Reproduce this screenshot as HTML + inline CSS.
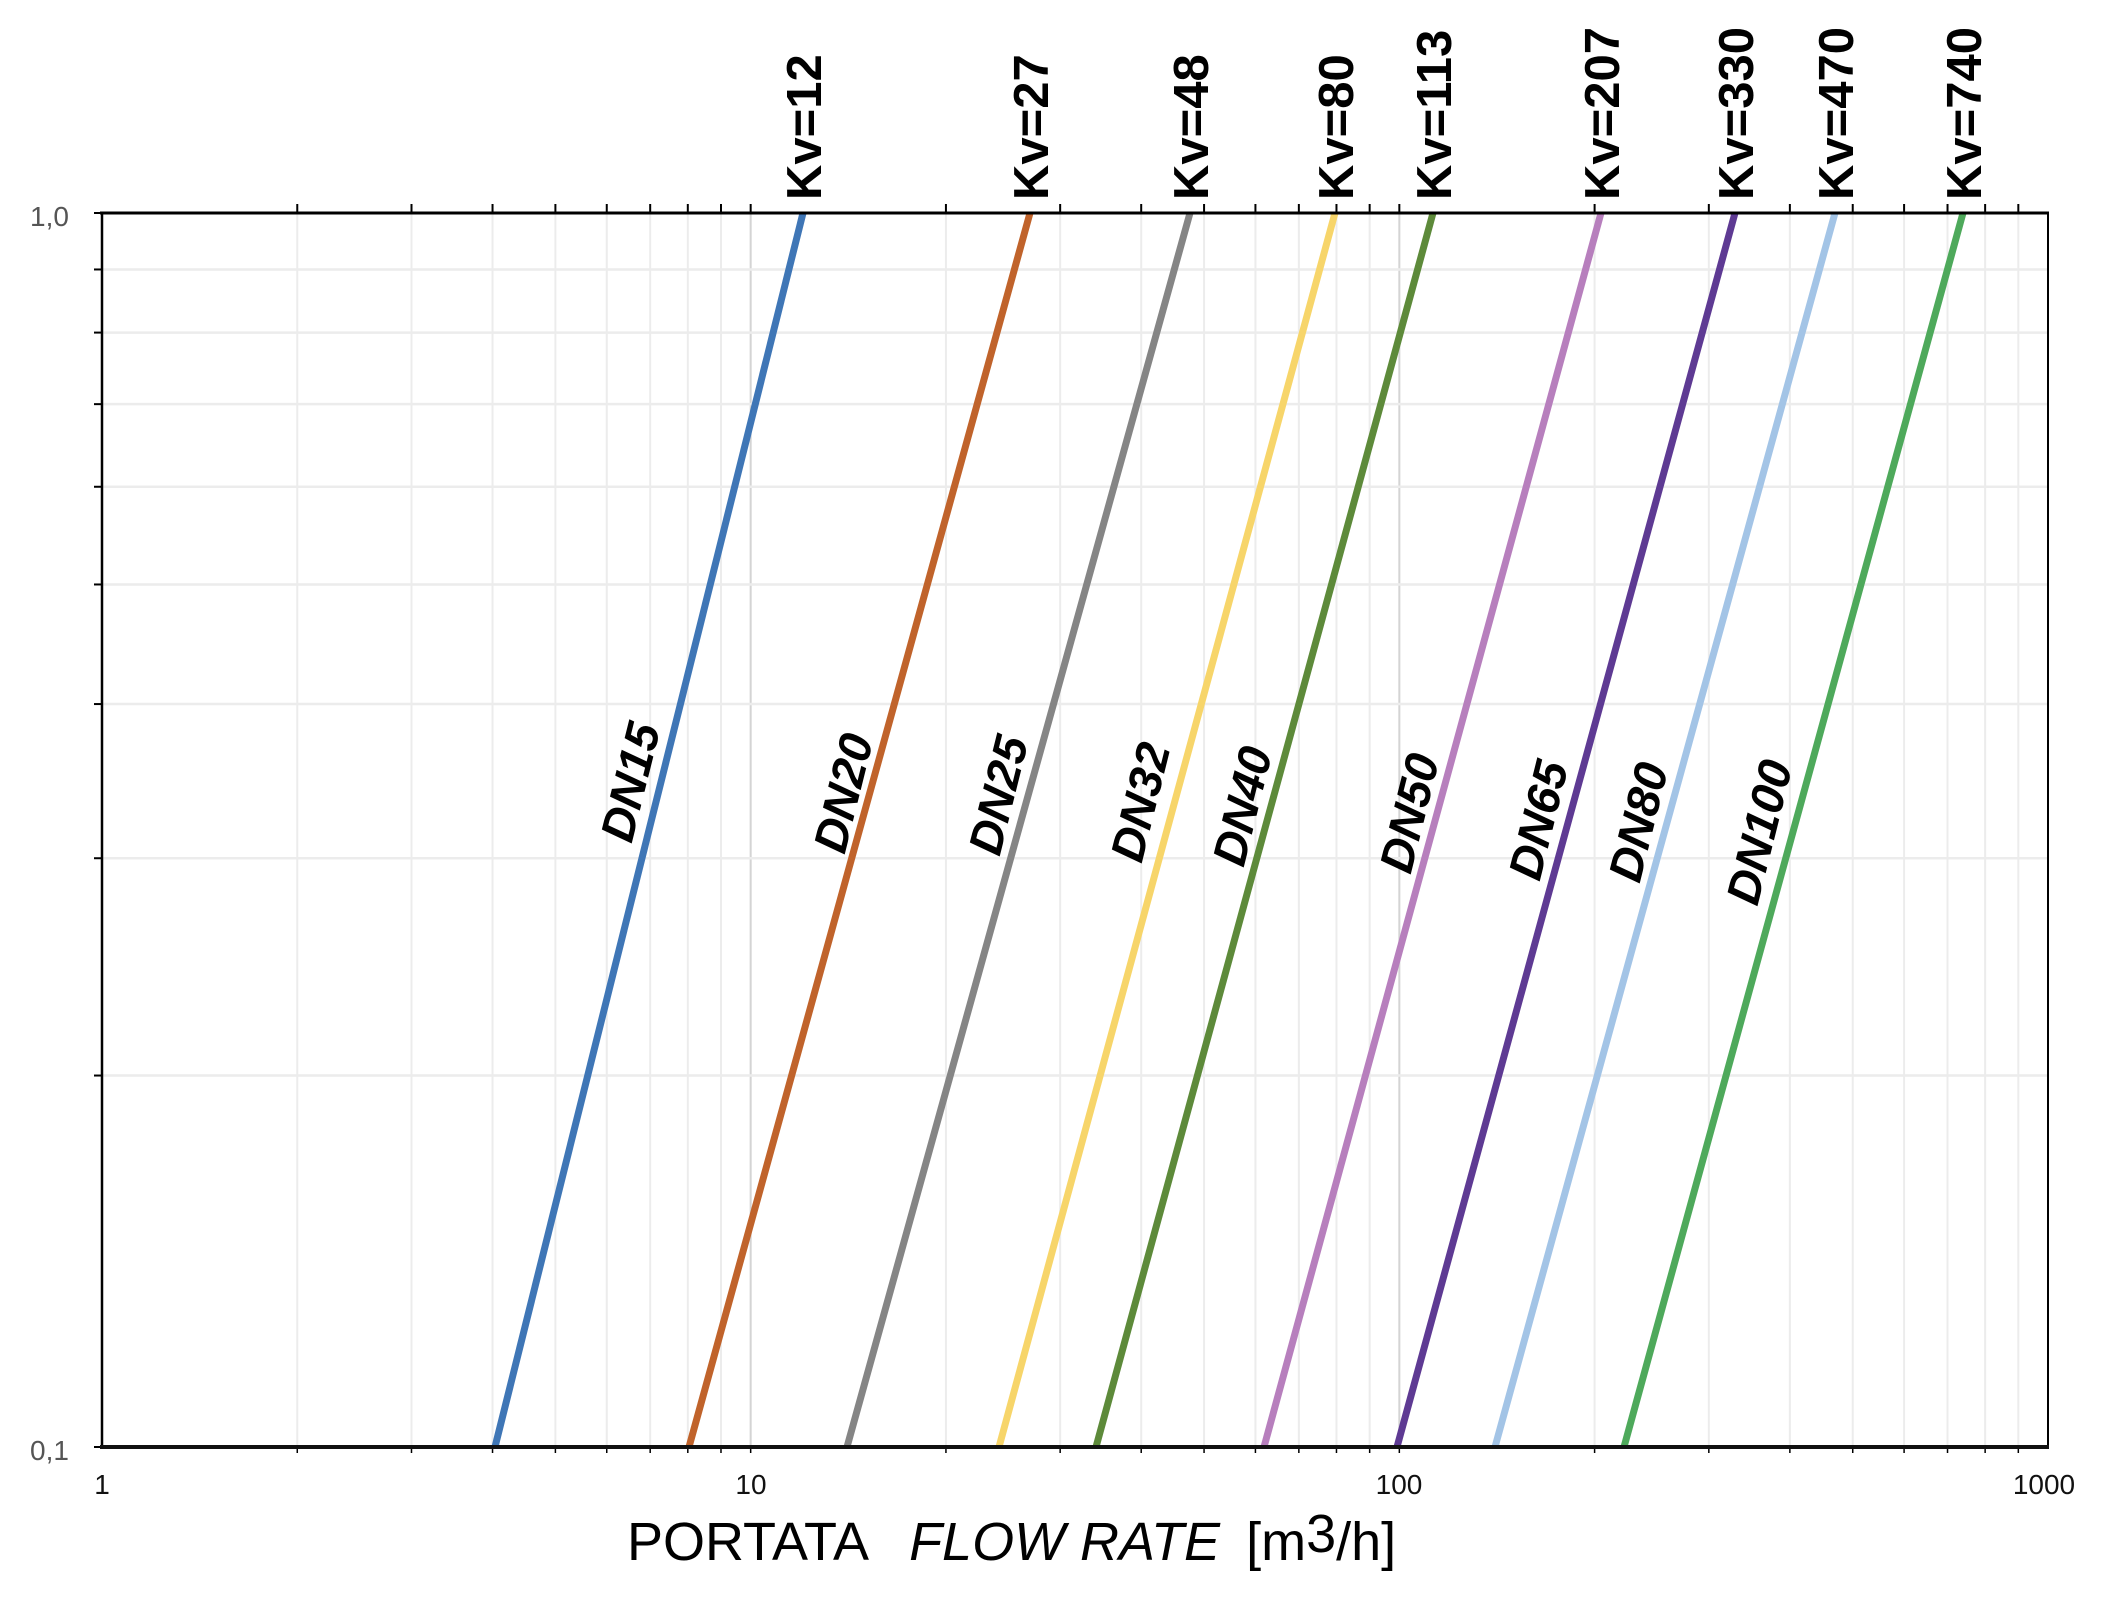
<!DOCTYPE html>
<html><head><meta charset="utf-8"><style>
html,body{margin:0;padding:0;background:#fff;}
svg{display:block;}
</style></head><body>
<svg id="s" width="2114" height="1608" viewBox="0 0 2114 1608" xmlns="http://www.w3.org/2000/svg" font-family="Liberation Sans, sans-serif">
<rect width="2114" height="1608" fill="#fff"/>
<g id="grid"></g>
<g stroke-width="7" stroke-linecap="butt" fill="none">
<line x1="803" y1="213" x2="495" y2="1447" stroke="#3f76b6"/>
<line x1="1030" y1="213" x2="689" y2="1447" stroke="#c0632b"/>
<line x1="1190" y1="213" x2="847" y2="1447" stroke="#858585"/>
<line x1="1335" y1="213" x2="999" y2="1447" stroke="#f7d56a"/>
<line x1="1433" y1="213" x2="1096" y2="1447" stroke="#5d8a3a"/>
<line x1="1601" y1="213" x2="1264" y2="1447" stroke="#b77fbd"/>
<line x1="1735" y1="213" x2="1397" y2="1447" stroke="#5e3a93"/>
<line x1="1835" y1="213" x2="1495" y2="1447" stroke="#a3c4e6"/>
<line x1="1963" y1="213" x2="1624" y2="1447" stroke="#4ea95b"/>
</g>
<g id="axes"></g>
<g font-weight="bold" font-size="49" fill="#000">
<text transform="translate(821,200) rotate(-90)">Kv=12</text>
<text transform="translate(1048,200) rotate(-90)">Kv=27</text>
<text transform="translate(1208,200) rotate(-90)">Kv=48</text>
<text transform="translate(1353,200) rotate(-90)">Kv=80</text>
<text transform="translate(1451,200) rotate(-90)">Kv=113</text>
<text transform="translate(1619,200) rotate(-90)">Kv=207</text>
<text transform="translate(1753,200) rotate(-90)">Kv=330</text>
<text transform="translate(1853,200) rotate(-90)">Kv=470</text>
<text transform="translate(1981,200) rotate(-90)">Kv=740</text>
</g>
<g font-weight="bold" font-style="italic" font-size="47" fill="#000" text-anchor="middle" dominant-baseline="central">
<text transform="translate(630,782) rotate(-76)">DN15</text>
<text transform="translate(843,793) rotate(-76)">DN20</text>
<text transform="translate(998,795) rotate(-76)">DN25</text>
<text transform="translate(1140,802) rotate(-76)">DN32</text>
<text transform="translate(1242,806) rotate(-76)">DN40</text>
<text transform="translate(1409,813) rotate(-76)">DN50</text>
<text transform="translate(1538,820) rotate(-76)">DN65</text>
<text transform="translate(1638,822) rotate(-76)">DN80</text>
<text transform="translate(1759,832) rotate(-76)">DN100</text>
</g>
<g font-size="28" fill="#555">
<text x="30" y="226">1,0</text>
<text x="30" y="1460">0,1</text>
</g>
<g font-size="28" fill="#111" text-anchor="middle">
<text x="102" y="1494">1</text>
<text x="751" y="1494">10</text>
<text x="1399" y="1494">100</text>
<text x="2044" y="1494">1000</text>
</g>
<text x="627" y="1560" font-size="54" fill="#000">PORTATA <tspan dx="28" font-style="italic">FLOW RATE</tspan><tspan dx="26">[m</tspan><tspan dy="-8">3</tspan><tspan dy="8">/h]</tspan></text>
</svg>
<script>
var L=102,R=2048,T=213,B=1447,D=(R-L)/3,H=B-T;
function X(v){return L+Math.log10(v)*D;}
function Y(p){return T-Math.log10(p)*H;}
var g='',a='';
for(var d=0;d<3;d++){for(var k=1;k<=9;k++){var v=k*Math.pow(10,d);var x=X(v);
 if(k==1&&d==0)continue;
 var c=(k==1)?'#d4d4d4':'#ececec';
 g+='<line x1="'+x+'" y1="'+T+'" x2="'+x+'" y2="'+B+'" stroke="'+c+'" stroke-width="2"/>';
 a+='<line x1="'+x+'" y1="'+T+'" x2="'+x+'" y2="'+(T-9)+'" stroke="#000" stroke-width="2"/>';
 a+='<line x1="'+x+'" y1="'+B+'" x2="'+x+'" y2="'+(B+6)+'" stroke="#000" stroke-width="1.5"/>';
}}
for(var k=2;k<=9;k++){var y=Y(k/10);
 g+='<line x1="'+L+'" y1="'+y+'" x2="'+R+'" y2="'+y+'" stroke="#ececec" stroke-width="2.5"/>';
 a+='<line x1="'+(L-8)+'" y1="'+y+'" x2="'+L+'" y2="'+y+'" stroke="#000" stroke-width="2"/>';
}
a+='<line x1="'+(L-8)+'" y1="'+T+'" x2="'+L+'" y2="'+T+'" stroke="#000" stroke-width="2"/>';
a+='<line x1="'+(L-8)+'" y1="'+B+'" x2="'+L+'" y2="'+B+'" stroke="#000" stroke-width="2"/>';
a+='<line x1="'+L+'" y1="'+T+'" x2="'+L+'" y2="'+B+'" stroke="#000" stroke-width="2.5"/>';
a+='<line x1="'+R+'" y1="'+T+'" x2="'+R+'" y2="'+B+'" stroke="#000" stroke-width="2"/>';
a+='<line x1="'+(L-2)+'" y1="'+T+'" x2="'+(R+1)+'" y2="'+T+'" stroke="#000" stroke-width="3"/>';
a+='<line x1="'+(L-2)+'" y1="'+B+'" x2="'+(R+1)+'" y2="'+B+'" stroke="#111" stroke-width="4"/>';
document.getElementById('grid').innerHTML=g;
document.getElementById('axes').innerHTML=a;
</script>
</body></html>
